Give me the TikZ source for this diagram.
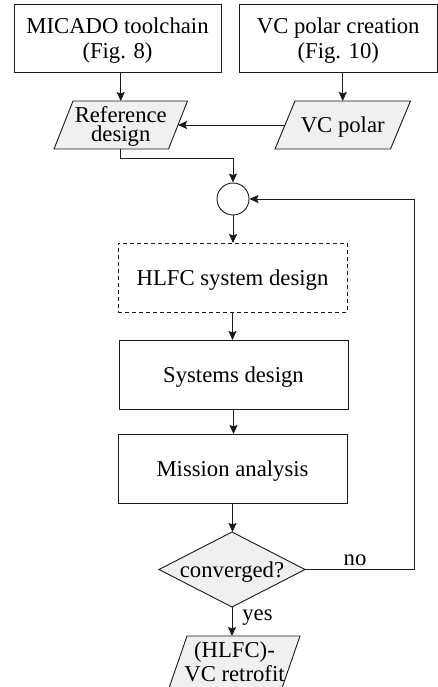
\documentclass[tikz,border=0pt]{standalone}
\usepackage{fontspec}
\setmainfont{Liberation Serif}
\usetikzlibrary{arrows.meta,backgrounds,calc}

\definecolor{iofill}{HTML}{F0F0F0}
\definecolor{linecol}{HTML}{1A1A1A}

\tikzset{
  base/.style={inner sep=0pt, outer sep=0pt, align=center,
    font=\fontsize{22.7}{25}\selectfont, text height=15pt, text depth=0pt},
  procbox/.style={base, draw=linecol, line width=0.9pt, minimum width=229pt, minimum height=69pt},
  dashbox/.style={procbox, dash pattern=on 4pt off 3pt},
  iobox/.style={base, minimum height=48pt},
  arr/.style={draw=linecol, line width=0.9pt, -{Stealth[length=9pt,width=8pt,inset=1.5pt]}},
  shapeline/.style={draw=linecol, line width=0.9pt, fill=iofill, line join=miter},
  lbl/.style={font=\fontsize{22.7}{25}\selectfont, inner sep=0pt, anchor=base}
}

\begin{document}
\begin{tikzpicture}[x=1pt, y=-1pt]
  \useasboundingbox (0,0) rectangle (438,687);

  % upper source boxes (two-line texts: height spans cap top to last baseline)
  \node[procbox, minimum width=207pt, minimum height=68.5pt, text height=40pt]
    (micado) at (117.5,38.5) {MICADO toolchain\\(Fig. 8)};
  \node[procbox, minimum width=198.5pt, minimum height=68.5pt, text height=40pt]
    (vcc) at (338.25,38.5) {VC polar creation\\(Fig. 10)};

  % data (parallelogram) nodes
  \node[iobox, minimum width=114.5pt, text height=34pt,
    font=\fontsize{22.7}{19}\selectfont] (ref) at (120.75,125) {Reference\\design};
  \node[iobox, minimum width=115.5pt] (vcp) at (342.75,125) {VC polar};

  % loop junction
  \node[circle, draw=linecol, line width=0.9pt, minimum size=32pt, inner sep=0pt]
    (circ) at (233,199) {};

  % process chain
  \node[dashbox] (hlfc) at (232.5,277.5) {HLFC system design};
  \node[procbox] (sys)  at (233.5,374.5) {Systems design};
  \node[procbox] (mis)  at (232.5,468.5) {Mission analysis};

  % decision
  \node[base, minimum width=146pt, minimum height=75pt] (conv) at (232,569.5) {converged?};

  % result
  \node[base, minimum width=113pt, minimum height=52pt, text height=39.5pt,
    font=\fontsize{22.7}{24.5}\selectfont] (out) at (234.5,662) {(HLFC)-\\VC retrofit};

  % outlines of the slanted and diamond shapes behind their texts
  \begin{scope}[on background layer]
    \draw[shapeline] ($(ref.south west)+(-9.5,0)$) -- ($(ref.south east)+(-9.5,0)$)
      -- ($(ref.north east)+(9.5,0)$) -- ($(ref.north west)+(9.5,0)$) -- cycle;
    \draw[shapeline] ($(vcp.south west)+(-10,0)$) -- ($(vcp.south east)+(-10,0)$)
      -- ($(vcp.north east)+(10,0)$) -- ($(vcp.north west)+(10,0)$) -- cycle;
    \draw[shapeline] ($(out.south west)+(-9,0)$) -- ($(out.south east)+(-9,0)$)
      -- ($(out.north east)+(9,0)$) -- ($(out.north west)+(9,0)$) -- cycle;
    \draw[shapeline] (conv.north) -- (conv.east) -- (conv.south) -- (conv.west) -- cycle;
  \end{scope}

  % connectors
  \draw[arr] (micado.south -| ref.north) -- (ref.north);
  \draw[arr] (vcc.south -| vcp.north) -- (vcp.north);
  \draw[arr] (vcp.west) -- (ref.east);
  \draw[arr] (ref.south) -- ++(0,9) -| (circ.north);
  \draw[arr] (circ.south) -- (circ.south |- hlfc.north);
  \draw[arr] (hlfc.south) -- (hlfc.south |- sys.north);
  \draw[arr] (sys.south) -- (sys.south |- mis.north);
  \draw[arr] (mis.south) -- (mis.south |- conv.north);
  \draw[arr] (conv.south) -- (conv.south |- out.north);
  \draw[arr] (conv.east) -- ++(109,0) coordinate (back) |- (circ.east);

  % branch labels
  \node[lbl] (no)  at (355,565) {no};
  \node[lbl] (yes) at (257.5,620) {yes};
\end{tikzpicture}
\end{document}
